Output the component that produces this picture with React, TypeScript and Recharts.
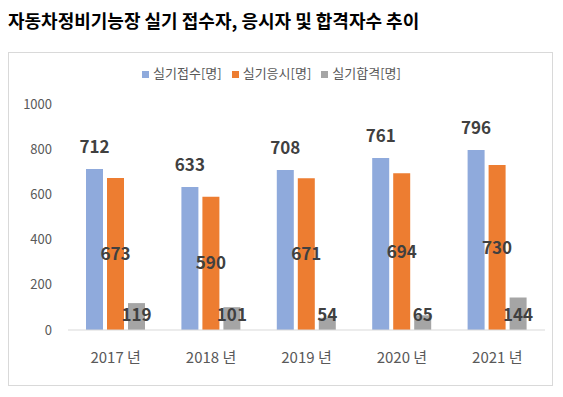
import { BarChart, Bar, XAxis, YAxis, Legend, LabelList } from "recharts";

const years = ["2017 년", "2018 년", "2019 년", "2020 년", "2021 년"];
const applied = [712, 633, 708, 761, 796];
const tested = [673, 590, 671, 694, 730];
const passed = [119, 101, 54, 65, 144];
const yTicks = [0, 200, 400, 600, 800, 1000];
const seriesNames = ["실기접수[명]", "실기응시[명]", "실기합격[명]"];

const FONT = '"Noto Sans CJK KR", "Noto Sans", sans-serif';
const LABEL_COLOR = "#404040";

const data = years.map((year, i) => ({
  year,
  applied: applied[i],
  tested: tested[i],
  passed: passed[i],
}));

// gray labels sit at a fixed height near the base in the original
const BaseLabel = (props: any) => {
  const { x, y, width, height, value } = props;
  return (
    <text
      x={x + width / 2}
      y={y + height - 17}
      textAnchor="middle"
      dominantBaseline="central"
      fill={LABEL_COLOR}
      fontSize={17}
      fontWeight="bold"
      fontFamily={FONT}
    >
      {value}
    </text>
  );
};

export default function App() {
  const labelStyle = { fill: LABEL_COLOR, fontSize: 17, fontWeight: "bold" as const, fontFamily: FONT };
  return (
    <div style={{ fontFamily: FONT, width: 547 }}>
      <div style={{ fontSize: 18, fontWeight: "bold", lineHeight: "24px", color: "#000" }}>
        자동차정비기능장 실기 접수자, 응시자 및 합격자수 추이
      </div>
      <div
        style={{
          marginTop: 20,
          width: 543,
          height: 332,
          border: "1px solid #d9d9d9",
          background: "#fff",
        }}
      >
        <BarChart
          width={543}
          height={332}
          data={data}
          margin={{ top: 32, right: 7, left: 0, bottom: 0 }}
          barCategoryGap={18}
          barGap={4}
        >
          <Legend
            verticalAlign="top"
            iconType="square"
            iconSize={7}
            itemSorter={(item: any) => seriesNames.indexOf(item.value)}
            wrapperStyle={{ top: 10, left: -4, width: 543, fontSize: 13, fontFamily: FONT }}
            formatter={(v: string) => <span style={{ color: "#595959" }}>{v}</span>}
          />
          <XAxis
            dataKey="year"
            height={55}
            tickLine={false}
            tickMargin={16}
            axisLine={{ stroke: "#d9d9d9" }}
            tick={{ fill: "#595959", fontSize: 15, fontFamily: FONT }}
          />
          <YAxis
            width={59}
            domain={[0, 1000]}
            ticks={yTicks}
            axisLine={false}
            tickLine={false}
            tickMargin={10}
            tick={{ fill: "#595959", fontSize: 13, fontFamily: FONT }}
          />
          <Bar dataKey="applied" name={seriesNames[0]} fill="#8faadc" isAnimationActive={false}>
            <LabelList dataKey="applied" position="top" offset={16} style={labelStyle} />
          </Bar>
          <Bar dataKey="tested" name={seriesNames[1]} fill="#ed7d31" isAnimationActive={false}>
            <LabelList dataKey="tested" position="center" style={labelStyle} />
          </Bar>
          <Bar dataKey="passed" name={seriesNames[2]} fill="#a5a5a5" isAnimationActive={false}>
            <LabelList dataKey="passed" content={BaseLabel} />
          </Bar>
        </BarChart>
      </div>
    </div>
  );
}
